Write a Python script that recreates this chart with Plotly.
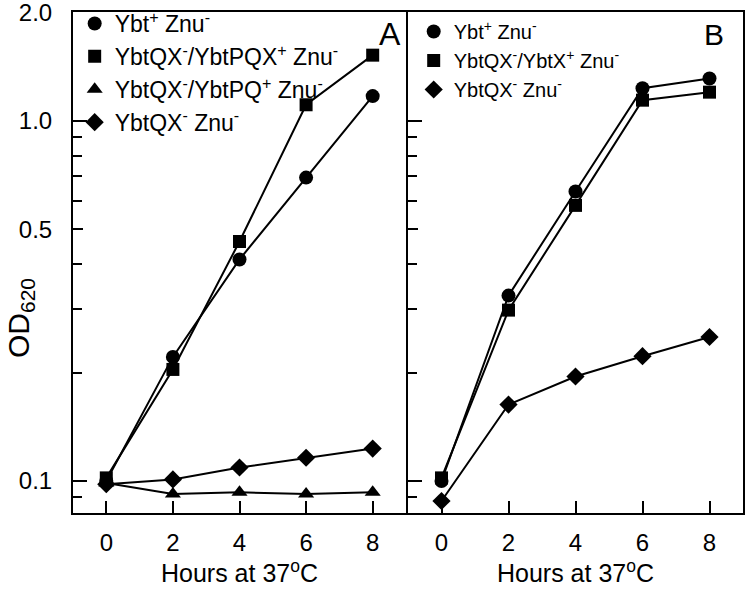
import math
import plotly.graph_objects as go

# ---- data ----
hours = [0, 2, 4, 6, 8]

# Panel A
a_names = [
    "Ybt<sup>+</sup> Znu<sup>-</sup>",
    "YbtQX<sup>-</sup>/YbtPQX<sup>+</sup> Znu<sup>-</sup>",
    "YbtQX<sup>-</sup>/YbtPQ<sup>+</sup> Znu<sup>-</sup>",
    "YbtQX<sup>-</sup> Znu<sup>-</sup>",
]
a_ybt = [0.100, 0.221, 0.412, 0.695, 1.17]
a_pqx = [0.102, 0.204, 0.462, 1.107, 1.52]
a_pq = [0.0987, 0.092, 0.093, 0.092, 0.093]
a_qx = [0.098, 0.101, 0.109, 0.116, 0.123]

# Panel B
b_names = [
    "Ybt<sup>+</sup> Znu<sup>-</sup>",
    "YbtQX<sup>-</sup>/YbtX<sup>+</sup> Znu<sup>-</sup>",
    "YbtQX<sup>-</sup> Znu<sup>-</sup>",
]
b_ybt = [0.100, 0.327, 0.636, 1.23, 1.31]
b_x = [0.102, 0.298, 0.582, 1.14, 1.20]
b_qx = [0.088, 0.163, 0.195, 0.222, 0.251]

x_ticks = [0, 2, 4, 6, 8]
y_ticks = [0.1, 0.5, 1.0, 2.0]
y_ticktext = ["0.1", "0.5", "1.0", "2.0"]
y_decades = [0.1, 1.0]
y_minor_1 = [0.09, 0.2, 0.4, 0.7, 0.9]
y_minor_2 = [0.3, 0.6, 0.8]
x_title = "Hours at 37<sup>o</sup>C"
y_title = "OD<sub>620</sub>"

FONT = "Liberation Sans, Arial, sans-serif"

fig = go.Figure()


def add_series(xa, ya_line, ya_mark, legend, name, y, symbol, size):
    # connecting line on the base axis, markers on an overlay axis (on top)
    fig.add_trace(go.Scatter(
        x=hours, y=y, mode="lines", xaxis=xa, yaxis=ya_line,
        line=dict(color="black", width=2), showlegend=False, hoverinfo="skip"))
    fig.add_trace(go.Scatter(
        x=hours, y=y, mode="markers", xaxis=xa, yaxis=ya_mark, name=name,
        legend=legend,
        marker=dict(symbol=symbol, size=size, color="black",
                    line=dict(width=0))))


add_series("x", "y", "y3", "legend", a_names[0], a_ybt, "circle", 14)
add_series("x", "y", "y5", "legend", a_names[1], a_pqx, "square", 13)
add_series("x", "y", "y6", "legend", a_names[2], a_pq, "triangle-up", 14)
add_series("x", "y", "y6", "legend", a_names[3], a_qx, "diamond", 14)

add_series("x2", "y2", "y4", "legend2", b_names[0], b_ybt, "circle", 14)
add_series("x2", "y2", "y7", "legend2", b_names[1], b_x, "square", 13)
add_series("x2", "y2", "y8", "legend2", b_names[2], b_qx, "diamond", 14)

yrange = [math.log10(0.0815), math.log10(2.0) + 0.0006]

xcommon = dict(
    range=[-1, 9], tickvals=x_ticks, ticks="inside", ticklen=12, tickwidth=2,
    tickcolor="black", showline=True, linecolor="black", linewidth=2,
    mirror=True, showgrid=False, zeroline=False, automargin=False,
    tickfont=dict(family=FONT, size=24, color="black"),
    ticklabelstandoff=7, ticklabeloverflow="allow",
    title=dict(text=x_title, font=dict(family=FONT, size=25, color="black"),
               standoff=7),
)
ycommon = dict(
    type="log", range=yrange, tickmode="array", tickvals=y_ticks,
    ticktext=y_ticktext,
    ticks="inside", ticklen=10, tickwidth=2, tickcolor="black",
    showline=True, linecolor="black", linewidth=2, mirror=True,
    showgrid=False, zeroline=False, automargin=False,
    ticklabeloverflow="allow",
    tickfont=dict(family=FONT, size=24, color="black"),
)


def tick_overlay(anchor, base, vals, length):
    return dict(
        type="log", range=yrange, tickmode="array", tickvals=vals,
        ticktext=[""] * len(vals), anchor=anchor, overlaying=base,
        ticks="inside", ticklen=length, tickwidth=2, tickcolor="black",
        showticklabels=False, showline=False, showgrid=False, zeroline=False,
        automargin=False, side="left",
    )


fig.update_layout(
    width=750, height=590,
    margin=dict(l=73, r=7, t=12, b=77, autoexpand=False),
    paper_bgcolor="white", plot_bgcolor="white",
    font=dict(family=FONT, color="black"),
    xaxis=dict(domain=[0, 0.497], anchor="y", **xcommon),
    xaxis2=dict(domain=[0.500, 1.0], anchor="y2", **xcommon),
    yaxis=dict(domain=[0, 1], anchor="x", ticklabelstandoff=14, **ycommon),
    yaxis2=dict(domain=[0, 1], anchor="x2", showticklabels=False, **ycommon),
    yaxis3=tick_overlay("x", "y", y_decades, 14),
    yaxis5=tick_overlay("x", "y", y_minor_1, 9),
    yaxis6=tick_overlay("x", "y", y_minor_2, 9),
    yaxis4=tick_overlay("x2", "y2", y_decades, 14),
    yaxis7=tick_overlay("x2", "y2", y_minor_1, 9),
    yaxis8=tick_overlay("x2", "y2", y_minor_2, 9),
    legend=dict(x=0.0025, y=1.020, xanchor="left", yanchor="top",
                bgcolor="rgba(0,0,0,0)", borderwidth=0,
                font=dict(family=FONT, size=23, color="black"),
                tracegroupgap=0),
    legend2=dict(x=0.5085, y=1.000, xanchor="left", yanchor="top",
                 bgcolor="rgba(0,0,0,0)", borderwidth=0,
                 font=dict(family=FONT, size=20, color="black"),
                 tracegroupgap=0),
    annotations=[
        dict(text="A", xref="paper", yref="paper", x=(390 - 73) / 670,
             y=(513 - 34) / 501, showarrow=False, xanchor="center",
             yanchor="middle", font=dict(family=FONT, size=32, color="black")),
        dict(text="B", xref="paper", yref="paper", x=(714 - 73) / 670,
             y=(513 - 34) / 501, showarrow=False, xanchor="center",
             yanchor="middle", font=dict(family=FONT, size=30, color="black")),
        dict(text=y_title, xref="paper", yref="paper", x=(21 - 73) / 670,
             y=(513 - 318) / 501, showarrow=False, textangle=-90,
             xanchor="center", yanchor="middle",
             font=dict(family=FONT, size=30, color="black")),
    ],
)

fig.write_html(
    "out.html",
    config={"displayModeBar": False},
    post_script="document.body.style.margin='0px';document.body.style.padding='0px';",
)
